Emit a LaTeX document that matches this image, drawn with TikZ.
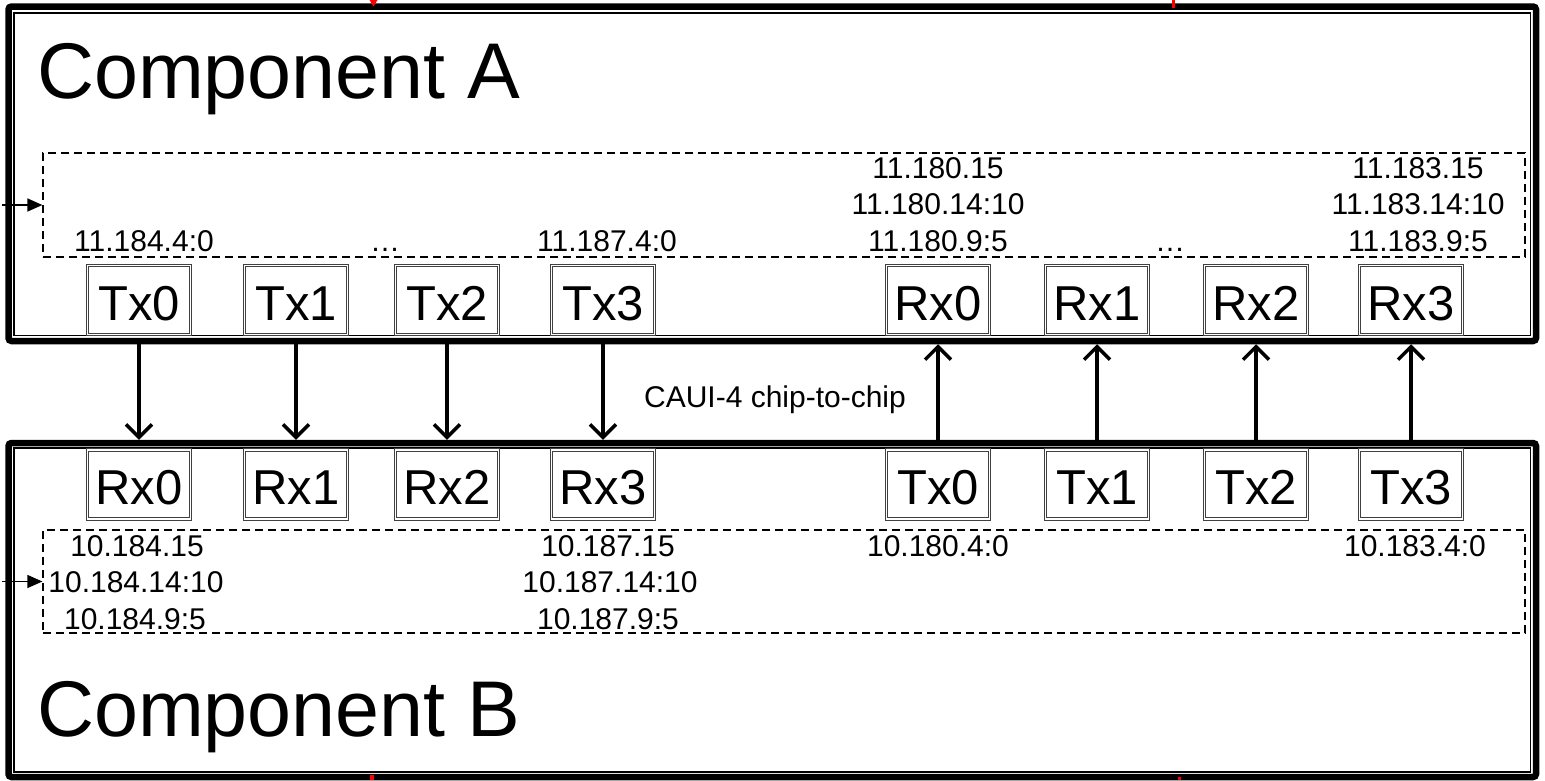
\documentclass[tikz,border=0pt]{standalone}
\usepackage{fontspec}
\setmainfont{Liberation Sans}
\usetikzlibrary{arrows.meta}
\tikzset{
  compout/.style={draw=black, line width=6.5pt, rounded corners=3pt, inner sep=0pt},
  compin/.style={draw=black, line width=1.3pt, inner sep=0pt},
  dashbox/.style={draw=black, line width=1.2pt, dash pattern=on 8pt off 5pt, inner sep=0pt},
  port/.style={draw=black!75, line width=0.9pt, double=white, double distance=1.4pt,
    minimum width=103pt, minimum height=69pt, inner sep=0pt,
    text height=40pt, text depth=0pt,
    font=\fontsize{49}{55}\selectfont},
  lbl/.style={anchor=base, inner sep=0pt, font=\fontsize{30}{36}\selectfont},
  big/.style={anchor=base west, inner sep=0pt, font=\fontsize{79}{92}\selectfont},
  link/.style={line width=3.5pt, -{Straight Barb[length=13pt,width=26pt,line width=3.5pt]}},
  feed/.style={line width=1.3pt, -{Triangle[length=15pt,width=13pt]}},
  redmark/.style={fill=red, draw=none}
}
\begin{document}
\begin{tikzpicture}[x=1pt, y=-1pt]
\useasboundingbox (0,0) rectangle (1545,780);
% components
\node[compout, minimum width=1527.5pt, minimum height=334.5pt] (Aout) at (772.25,173.75) {};
\node[compin, minimum width=1516.5pt, minimum height=322.5pt] (Ain) at (772.25,174.25) {};
\node[compout, minimum width=1527.5pt, minimum height=334pt] (Bout) at (772.25,610) {};
\node[compin, minimum width=1516.5pt, minimum height=324pt] (Bin) at (772.25,610) {};
\node[big] (Atitle) at (37,98) {Component A};
\node[big] (Btitle) at (37,736) {Component B};
% dashed register boxes
\node[dashbox, minimum width=1482pt, minimum height=104pt] (Adash) at (784,205) {};
\node[dashbox, minimum width=1482pt, minimum height=103pt] (Bdash) at (784,581.5) {};
\coordinate (Afeed) at (2,205);
\coordinate (Bfeed) at (2,581.5);
\draw[feed] (Afeed) -- (Adash.west);
\draw[feed] (Bfeed) -- (Bdash.west);
% ports A
\node[port] (ATx0) at (139,300) {Tx0};
\node[port] (ATx1) at (296,300) {Tx1};
\node[port] (ATx2) at (447,300) {Tx2};
\node[port] (ATx3) at (603,300) {Tx3};
\node[port] (ARx0) at (938,300) {Rx0};
\node[port] (ARx1) at (1097,300) {Rx1};
\node[port] (ARx2) at (1256,300) {Rx2};
\node[port] (ARx3) at (1411,300) {Rx3};
% ports B
\node[port] (BRx0) at (139,484.5) {Rx0};
\node[port] (BRx1) at (296,484.5) {Rx1};
\node[port] (BRx2) at (447,484.5) {Rx2};
\node[port] (BRx3) at (603,484.5) {Rx3};
\node[port] (BTx0) at (938,484.5) {Tx0};
\node[port] (BTx1) at (1097,484.5) {Tx1};
\node[port] (BTx2) at (1256,484.5) {Tx2};
\node[port] (BTx3) at (1411,484.5) {Tx3};
% links
\foreach \i in {0,1,2,3}{
  \draw[link] (ATx\i.south |- Aout.south) -- (ATx\i.south |- Bout.north);
  \draw[link] (BTx\i.north |- Bout.north) -- (BTx\i.north |- Aout.south);
}
\node[lbl] (caui) at (775,407) {CAUI-4 chip-to-chip};
% labels A
\node[lbl] (a1) at (938,178) {11.180.15};
\node[lbl] (a2) at (938,214.5) {11.180.14:10};
\node[lbl] (a3) at (938,251) {11.180.9:5};
\node[lbl] (a4) at (1418,178) {11.183.15};
\node[lbl] (a5) at (1418,214.5) {11.183.14:10};
\node[lbl] (a6) at (1418,251) {11.183.9:5};
\node[lbl] (a7) at (144,251) {11.184.4:0};
\node[lbl] (a8) at (385,251) {…};
\node[lbl] (a9) at (607,251) {11.187.4:0};
\node[lbl] (a10) at (1170,251) {…};
% labels B
\node[lbl] (b1) at (137,556) {10.184.15};
\node[lbl] (b2) at (136,592.5) {10.184.14:10};
\node[lbl] (b3) at (135,629) {10.184.9:5};
\node[lbl] (b4) at (608,556) {10.187.15};
\node[lbl] (b5) at (610,592.5) {10.187.14:10};
\node[lbl] (b6) at (608,629) {10.187.9:5};
\node[lbl] (b7) at (938,556) {10.180.4:0};
\node[lbl] (b8) at (1415,556) {10.183.4:0};
% red marks
\fill[redmark] (369.5,0) -- (377.5,0) -- (373.5,6.5) -- cycle;
\fill[redmark] (1171.5,0) rectangle (1175,8);
\fill[redmark] (370,775) rectangle (373.5,780);
\fill[redmark] (1178,777) rectangle (1180.5,780);
\end{tikzpicture}
\end{document}
